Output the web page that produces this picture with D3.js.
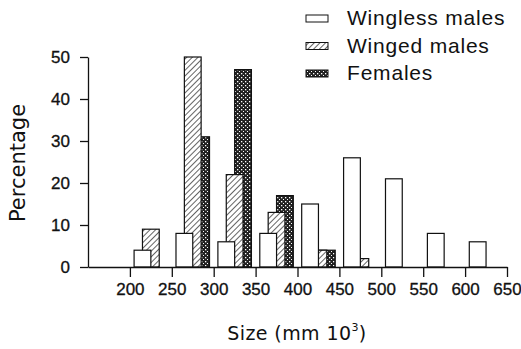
<!DOCTYPE html>
<html>
<head>
<meta charset="utf-8">
<script src="https://cdn.jsdelivr.net/npm/d3@7"></script>
<style>
  body { margin: 0; background: #fff; }
  svg { display: block; }
</style>
</head>
<body>
<script>
// size classes (lower edge of each 50 bin, mm 10^3)
var bins = [200, 250, 300, 350, 400, 450, 500, 550, 600];
var winglessMales = [4, 8, 6, 8, 15, 26, 21, 8, 6];
var wingedMales = [9, 50, 22, 13, 4, 2, 0, 0, 0];
var females = [0, 31, 47, 17, 4, 0, 0, 0, 0];
var yTicks = [0, 10, 20, 30, 40, 50];
var xTicks = [200, 250, 300, 350, 400, 450, 500, 550, 600, 650];
var legendNames = ["Wingless males", "Winged males", "Females"];

var w = 521;
var h = 349;

var svg = d3.select("body")
  .append("svg")
  .attr("width", w)
  .attr("height", h);

var defs = svg.append("defs");

// diagonal hatch for winged males
var hatch = defs.append("pattern")
  .attr("id", "hatch")
  .attr("patternUnits", "userSpaceOnUse")
  .attr("width", 4)
  .attr("height", 4)
  .attr("patternTransform", "rotate(45)");
hatch.append("rect").attr("width", 4).attr("height", 4).attr("fill", "#fff");
hatch.append("line")
  .attr("x1", 0).attr("y1", 0).attr("x2", 0).attr("y2", 4)
  .attr("stroke", "#111").attr("stroke-width", 1.3);

// dense checker for females
var check = defs.append("pattern")
  .attr("id", "check")
  .attr("patternUnits", "userSpaceOnUse")
  .attr("width", 4)
  .attr("height", 4);
check.append("rect").attr("width", 4).attr("height", 4).attr("fill", "#222");
check.append("rect").attr("x", 1).attr("y", 1).attr("width", 1.3).attr("height", 1.3).attr("fill", "#fff");
check.append("rect").attr("x", 3).attr("y", 3).attr("width", 1.3).attr("height", 1.3).attr("fill", "#fff");

var x = d3.scaleLinear().domain([150, 650]).range([88, 507]);
var y = d3.scaleLinear().domain([0, 50]).range([267, 57]);

// draw order: females at the back, wingless in front
var series = [
  { values: females, offset: 25, fill: "url(#check)" },
  { values: wingedMales, offset: 15, fill: "url(#hatch)" },
  { values: winglessMales, offset: 5, fill: "#fff" }
];
var barUnits = 20;

series.forEach(function(s) {
  var rows = s.values
    .map(function(v, i) { return { bin: bins[i], v: v }; })
    .filter(function(d) { return d.v > 0; });

  svg.append("g")
    .selectAll("rect")
    .data(rows)
    .enter()
    .append("rect")
    .attr("x", function(d) { return x(d.bin + s.offset); })
    .attr("y", function(d) { return y(d.v); })
    .attr("width", x(150 + barUnits) - x(150))
    .attr("height", function(d) { return y(0) - y(d.v); })
    .attr("fill", s.fill)
    .attr("stroke", "#111")
    .attr("stroke-width", 1.2);
});

var yAxis = svg.append("g")
  .attr("transform", "translate(88,0)")
  .call(d3.axisLeft(y).tickValues(yTicks).tickSize(8).tickPadding(10).tickSizeOuter(0));

var xAxis = svg.append("g")
  .attr("transform", "translate(0,267)")
  .call(d3.axisBottom(x).tickValues(xTicks).tickSize(10).tickPadding(6).tickSizeOuter(0));

[yAxis, xAxis].forEach(function(a) {
  a.selectAll("path, line").attr("stroke", "#111").attr("stroke-width", 1.3);
  a.selectAll("text")
    .attr("fill", "#111")
    .attr("stroke", "#111")
    .attr("stroke-width", 0.3)
    .style("font-family", "'Liberation Sans', Arial, sans-serif")
    .style("font-size", "17px");
});

svg.append("text")
  .attr("transform", "translate(25,163) rotate(-90)")
  .attr("text-anchor", "middle")
  .style("font-family", "'DejaVu Sans', sans-serif")
  .style("font-size", "21px")
  .attr("fill", "#111")
  .text("Percentage");

var title = svg.append("text")
  .attr("x", 297)
  .attr("y", 340)
  .attr("text-anchor", "middle")
  .style("font-family", "'DejaVu Sans', sans-serif")
  .style("font-size", "19px")
  .style("letter-spacing", "0.4px")
  .attr("fill", "#111");
title.append("tspan").text("Size (mm  10");
title.append("tspan").attr("dy", -9).style("font-size", "11px").text("3");
title.append("tspan").attr("dy", 9).text(")");

// legend
var legendFills = ["#fff", "url(#hatch)", "url(#check)"];
var legend = svg.append("g");
legend.selectAll("rect")
  .data(legendNames)
  .enter()
  .append("rect")
  .attr("x", 306)
  .attr("y", function(d, i) { return 15 + i * 27.5; })
  .attr("width", 22)
  .attr("height", 7)
  .attr("fill", function(d, i) { return legendFills[i]; })
  .attr("stroke", "#111")
  .attr("stroke-width", 1);
legend.selectAll("text")
  .data(legendNames)
  .enter()
  .append("text")
  .attr("x", 347)
  .attr("y", function(d, i) { return 25 + i * 27.5; })
  .style("font-family", "'Liberation Sans', Arial, sans-serif")
  .style("font-size", "21px")
  .style("letter-spacing", "0.8px")
  .attr("fill", "#111")
  .text(function(d) { return d; });
</script>
</body>
</html>
